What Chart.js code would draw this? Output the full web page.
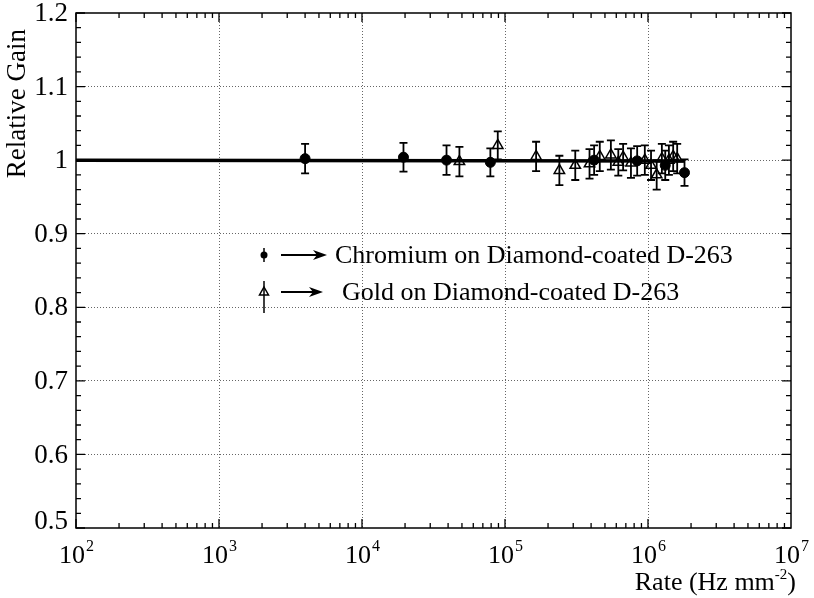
<!DOCTYPE html>
<html>
<head>
<meta charset="utf-8">
<script src="https://cdn.jsdelivr.net/npm/chart.js@4.4.1/dist/chart.umd.min.js"></script>
<style>
  html, body { margin: 0; padding: 0; background: #fff; }
  #wrap { width: 814px; height: 598px; }
</style>
</head>
<body>
<div id="wrap"><canvas id="gainChart" width="814" height="598"></canvas></div>
<script>
// Chromium electrode, filled circles
const chromiumRate = [4.0e3, 1.95e4, 3.9e4, 7.9e4, 4.2e5, 8.4e5, 1.32e6, 1.8e6];
const chromiumGain = [1.002, 1.004, 1.000, 0.997, 1.000, 0.999, 0.993, 0.983];
const chromiumErr = [0.020, 0.0195, 0.020, 0.019, 0.020, 0.020, 0.020, 0.018];

// Gold electrode, open triangles
const goldRate = [4.8e4, 8.9e4, 1.65e5, 2.4e5, 3.1e5, 3.9e5, 4.6e5, 5.5e5, 6.2e5, 6.7e5,
    7.6e5, 9.5e5, 1.05e6, 1.15e6, 1.25e6, 1.4e6, 1.5e6, 1.6e6];
const goldGain = [0.998, 1.020, 1.005, 0.986, 0.993, 0.995, 1.005, 1.007, 0.997, 1.004,
    0.996, 1.000, 0.993, 0.980, 1.002, 1.000, 1.005, 1.002];
const goldErr = [0.020, 0.019, 0.020, 0.020, 0.020, 0.020, 0.020, 0.020, 0.018, 0.018,
    0.020, 0.020, 0.020, 0.020, 0.020, 0.020, 0.020, 0.020];

// flat fit through both sets
const fitRate = [1e2, 1.8e6];
const fitGain = [1.000, 0.999];

const xDecades = [1e2, 1e3, 1e4, 1e5, 1e6, 1e7];
const xExponents = ['2', '3', '4', '5', '6', '7'];
const yTicks = [0.5, 0.6, 0.7, 0.8, 0.9, 1.0, 1.1, 1.2];
const yTickLabels = ['0.5', '0.6', '0.7', '0.8', '0.9', '1', '1.1', '1.2'];

const legendLabels = ['Chromium on Diamond-coated D-263', 'Gold on Diamond-coated D-263'];

const SERIF = '"Liberation Serif", "DejaVu Serif", serif';

function toPoints(xs, ys) {
    return xs.map((x, i) => ({ x: x, y: ys[i] }));
}

function drawArrow(ctx, x0, x1, y) {
    ctx.beginPath();
    ctx.moveTo(x0, y);
    ctx.lineTo(x1 - 6, y);
    ctx.stroke();
    ctx.beginPath();
    ctx.moveTo(x1, y);
    ctx.lineTo(x1 - 14, y - 5);
    ctx.lineTo(x1 - 10, y);
    ctx.lineTo(x1 - 14, y + 5);
    ctx.closePath();
    ctx.fill();
}

// error bars with caps, drawn under the markers
const errorBars = {
    id: 'errorBars',
    beforeDatasetsDraw(chart) {
        const ctx = chart.ctx;
        const xs = chart.scales.x, ys = chart.scales.y;
        const sets = [[chromiumRate, chromiumGain, chromiumErr], [goldRate, goldGain, goldErr]];
        ctx.save();
        ctx.strokeStyle = '#000';
        ctx.lineWidth = 1.8;
        for (const [rates, gains, errs] of sets) {
            rates.forEach((r, i) => {
                const px = xs.getPixelForValue(r);
                const top = ys.getPixelForValue(gains[i] + errs[i]);
                const bot = ys.getPixelForValue(gains[i] - errs[i]);
                ctx.beginPath();
                ctx.moveTo(px, top); ctx.lineTo(px, bot);
                ctx.moveTo(px - 4, top); ctx.lineTo(px + 4, top);
                ctx.moveTo(px - 4, bot); ctx.lineTo(px + 4, bot);
                ctx.stroke();
            });
        }
        ctx.restore();
    }
};

// frame, inward ticks, labels, titles and the in-plot legend
const decorations = {
    id: 'decorations',
    afterDraw(chart) {
        const ctx = chart.ctx;
        const a = chart.chartArea;
        const xs = chart.scales.x, ys = chart.scales.y;
        ctx.save();
        ctx.strokeStyle = '#000';
        ctx.fillStyle = '#000';
        ctx.lineWidth = 1.5;
        ctx.strokeRect(a.left, a.top, a.right - a.left, a.bottom - a.top);

        // x ticks (log minor 2..9)
        ctx.lineWidth = 1.3;
        ctx.beginPath();
        for (let d = 2; d < 7; d++) {
            for (let m = 1; m <= 9; m++) {
                const px = xs.getPixelForValue(m * Math.pow(10, d));
                const len = m === 1 ? 9 : 5;
                ctx.moveTo(px, a.bottom); ctx.lineTo(px, a.bottom - len);
                ctx.moveTo(px, a.top); ctx.lineTo(px, a.top + len);
            }
        }
        // y ticks every 0.02
        for (let k = 0; k <= 35; k++) {
            const v = 0.5 + k * 0.02;
            const py = ys.getPixelForValue(v);
            const len = k % 5 === 0 ? 9 : 5;
            ctx.moveTo(a.left, py); ctx.lineTo(a.left + len, py);
            ctx.moveTo(a.right, py); ctx.lineTo(a.right - len, py);
        }
        ctx.stroke();

        // y tick labels, the bottom one nudged up clear of the x labels
        ctx.font = '27px ' + SERIF;
        ctx.textAlign = 'right';
        ctx.textBaseline = 'middle';
        yTicks.forEach((v, i) => {
            const nudge = i === 0 ? -6 : 1;
            ctx.fillText(yTickLabels[i], a.left - 8, ys.getPixelForValue(v) + nudge);
        });

        // x tick labels 10^n
        ctx.textBaseline = 'alphabetic';
        ctx.textAlign = 'left';
        xDecades.forEach((v, i) => {
            const px = xs.getPixelForValue(v);
            ctx.font = '26px ' + SERIF;
            const wBase = ctx.measureText('10').width;
            ctx.font = '16px ' + SERIF;
            const wExp = ctx.measureText(xExponents[i]).width;
            const x0 = px - (wBase + wExp) / 2;
            ctx.font = '26px ' + SERIF;
            ctx.fillText('10', x0, a.bottom + 35);
            ctx.font = '16px ' + SERIF;
            ctx.fillText(xExponents[i], x0 + wBase + 1, a.bottom + 23);
        });

        // x title with superscript
        ctx.font = '26px ' + SERIF;
        const t1 = 'Rate (Hz mm', t2 = '-2', t3 = ')';
        const w1 = ctx.measureText(t1).width, w3 = ctx.measureText(t3).width;
        ctx.font = '15px ' + SERIF;
        const w2 = ctx.measureText(t2).width;
        let tx = a.right + 5 - (w1 + w2 + w3);
        const ty = a.bottom + 62;
        ctx.font = '26px ' + SERIF;
        ctx.fillText(t1, tx, ty);
        ctx.font = '15px ' + SERIF;
        ctx.fillText(t2, tx + w1, ty - 11);
        ctx.font = '26px ' + SERIF;
        ctx.fillText(t3, tx + w1 + w2, ty);

        // y title
        ctx.save();
        ctx.translate(a.left - 51, a.top + 16);
        ctx.rotate(-Math.PI / 2);
        ctx.font = '27px ' + SERIF;
        ctx.textAlign = 'right';
        ctx.textBaseline = 'alphabetic';
        ctx.fillText('Relative Gain', 0, 0);
        ctx.restore();

        // legend
        const lx = 264, ly1 = 255, ly2 = 292;
        ctx.lineWidth = 1.5;
        ctx.beginPath();
        ctx.moveTo(lx, ly1 - 7); ctx.lineTo(lx, ly1 + 7);
        ctx.stroke();
        ctx.beginPath();
        ctx.arc(lx, ly1, 3.5, 0, Math.PI * 2);
        ctx.fill();
        ctx.beginPath();
        ctx.moveTo(lx, ly2 - 11); ctx.lineTo(lx, ly2 + 21);
        ctx.stroke();
        ctx.beginPath();
        ctx.moveTo(lx, ly2 - 5); ctx.lineTo(lx + 4.5, ly2 + 3); ctx.lineTo(lx - 4.5, ly2 + 3);
        ctx.closePath();
        ctx.stroke();
        ctx.lineWidth = 1.8;
        drawArrow(ctx, 281, 327, ly1);
        drawArrow(ctx, 281, 323, ly2);
        ctx.font = '26px ' + SERIF;
        ctx.textAlign = 'left';
        ctx.textBaseline = 'middle';
        ctx.fillText(legendLabels[0], 335, ly1 + 1);
        ctx.fillText(legendLabels[1], 342, ly2 + 1);
        ctx.restore();
    }
};

new Chart(document.getElementById('gainChart'), {
    type: 'scatter',
    data: {
        datasets: [{
            label: 'fit',
            type: 'line',
            data: toPoints(fitRate, fitGain),
            borderColor: '#000',
            borderWidth: 3.5,
            pointRadius: 0,
            fill: false
        }, {
            label: 'Chromium on Diamond-coated D-263',
            data: toPoints(chromiumRate, chromiumGain),
            pointStyle: 'circle',
            pointRadius: 5,
            backgroundColor: '#000',
            borderColor: '#000',
            borderWidth: 1
        }, {
            label: 'Gold on Diamond-coated D-263',
            data: toPoints(goldRate, goldGain),
            pointStyle: 'triangle',
            pointRadius: 6,
            backgroundColor: 'rgba(255,255,255,0)',
            borderColor: '#000',
            borderWidth: 1.5
        }]
    },
    options: {
        responsive: false,
        animation: false,
        layout: { padding: { left: 76, top: 13, right: 23, bottom: 70 } },
        plugins: { legend: { display: false }, tooltip: { enabled: false } },
        scales: {
            x: {
                type: 'logarithmic',
                min: 1e2,
                max: 1e7,
                afterBuildTicks: (scale) => {
                    scale.ticks = xDecades.map(v => ({ value: v }));
                },
                ticks: { display: false },
                grid: {
                    drawTicks: false,
                    color: (c) => (c.tick && c.tick.value > 1e2 && c.tick.value < 1e7) ? '#666' : 'rgba(0,0,0,0)',
                    lineWidth: 1
                },
                border: { display: false, dash: [1, 2] }
            },
            y: {
                min: 0.5,
                max: 1.2,
                afterBuildTicks: (scale) => {
                    scale.ticks = yTicks.map(v => ({ value: v }));
                },
                ticks: { display: false },
                grid: {
                    drawTicks: false,
                    color: (c) => (c.tick && c.tick.value > 0.55 && c.tick.value < 1.15) ? '#666' : 'rgba(0,0,0,0)',
                    lineWidth: 1
                },
                border: { display: false, dash: [1, 2] }
            }
        }
    },
    plugins: [errorBars, decorations]
});
</script>
</body>
</html>
